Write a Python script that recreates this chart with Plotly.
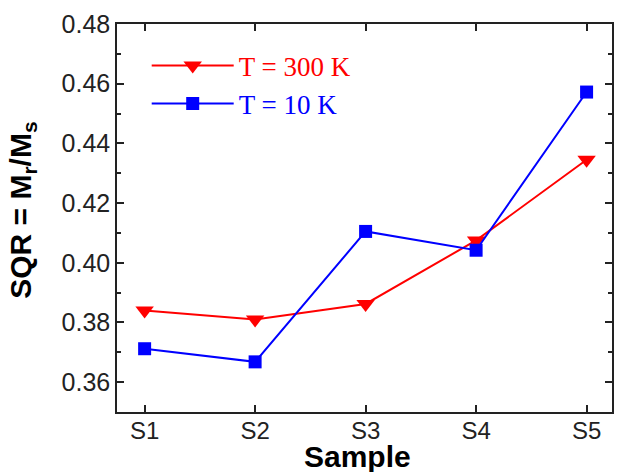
import plotly.graph_objects as go

samples = ["S1", "S2", "S3", "S4", "S5"]
x_pos = [1, 2, 3, 4, 5]
sqr_300K = [0.384, 0.381, 0.3862, 0.4075, 0.4345]
sqr_10K = [0.3712, 0.3668, 0.4105, 0.4042, 0.4572]

fig = go.Figure()
fig.add_trace(go.Scatter(
    x=x_pos, y=sqr_300K, mode="lines+markers",
    name='<span style="color:#ff0000">T = 300 K</span>',
    line=dict(color="#ff0000", width=2),
    marker=dict(symbol="triangle-down", size=16, color="#ff0000"),
))
fig.add_trace(go.Scatter(
    x=x_pos, y=sqr_10K, mode="lines+markers",
    name='<span style="color:#0000ff">T = 10 K</span>',
    line=dict(color="#0000ff", width=2),
    marker=dict(symbol="square", size=13, color="#0000ff"),
))

axis_common = dict(
    showline=True, linecolor="#222222", linewidth=1.5, mirror="ticks",
    ticks="inside", ticklen=7, tickwidth=1.5, tickcolor="#222222",
    showgrid=False, zeroline=False,
)

fig.update_xaxes(
    range=[0.75, 5.23], tickvals=x_pos, ticktext=samples,
    tickfont=dict(family="Liberation Sans", size=24, color="#222222"),
    ticklabelstandoff=-4,
    **axis_common
)
fig.update_yaxes(
    range=[0.35, 0.48], dtick=0.02, tickformat=".2f",
    tickfont=dict(family="Liberation Sans", size=25, color="#222222"),
    minor=dict(dtick=0.01, ticks="inside", ticklen=4, tickwidth=1.5, tickcolor="#222222"),
    **axis_common
)

fig.update_layout(
    width=617, height=472,
    margin=dict(l=117, r=3, t=24, b=60),
    plot_bgcolor="white", paper_bgcolor="white",
    showlegend=True,
    legend=dict(
        x=0.06, y=0.955, xanchor="left", yanchor="top",
        bgcolor="rgba(0,0,0,0)", itemwidth=82,
        font=dict(family="Liberation Serif", size=27),
        tracegroupgap=0,
    ),
    annotations=[
        dict(text="<b>SQR = M<sub>r</sub>/M<sub>s</sub></b>", xref="paper", yref="paper",
             x=-0.19, y=0.521, xanchor="center", yanchor="middle", textangle=-90,
             showarrow=False, font=dict(family="Liberation Sans", size=30, color="black")),
        dict(text="<b>Sample</b>", xref="paper", yref="paper",
             x=0.485, y=-0.066, xanchor="center", yanchor="top",
             showarrow=False, font=dict(family="Liberation Sans", size=30, color="black")),
    ],
)

fig.write_html("out.html")
